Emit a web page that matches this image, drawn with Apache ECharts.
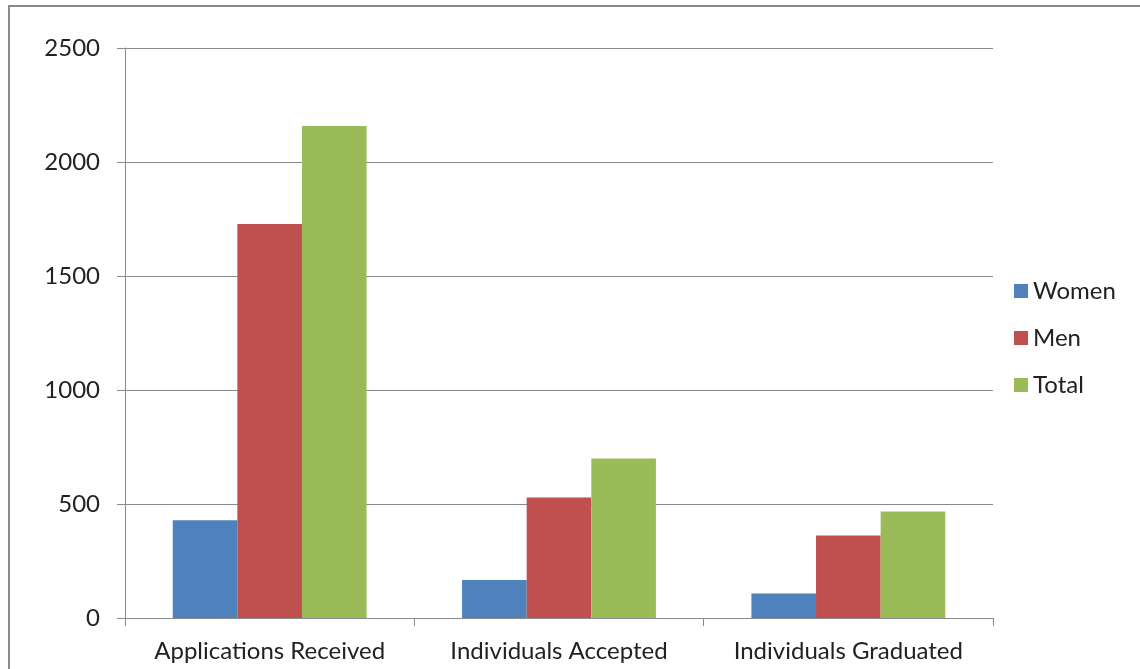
<!DOCTYPE html>
<html>
<head>
<meta charset="utf-8">
<script src="https://cdn.jsdelivr.net/npm/echarts@6/dist/echarts.min.js"></script>
<style>
    html, body { margin: 0; padding: 0; background: #fff; }
    #myChart { width: 1140px; height: 669px; }
</style>
</head>
<body>
<div id="myChart"></div>
<script>
const categories = ['Applications Received', 'Individuals Accepted', 'Individuals Graduated']
const women = [429, 167, 107]
const men = [1728, 528, 362]
const total = [2158, 700, 467]
const colorList = ['#4F81BD', '#C0504D', '#9BBB59']
const textFont = 'Lato'

const myChart = echarts.init(document.getElementById('myChart'))

const option = {
    animation: false,
    color: colorList,
    graphic: [{
        type: 'rect',
        shape: { x: 9, y: 6, width: 1200, height: 720 },
        style: { fill: 'none', stroke: '#8a8a8a', lineWidth: 2 },
        silent: true
    }],
    legend: {
        orient: 'vertical',
        left: 1009,
        top: 274,
        itemWidth: 14,
        itemHeight: 14,
        itemGap: 23,
        icon: 'rect',
        textStyle: { fontFamily: textFont, fontSize: 24, color: '#222', lineHeight: 24 },
        data: ['Women', 'Men', 'Total']
    },
    grid: {
        left: 125,
        right: 147,
        top: 48,
        bottom: 51
    },
    xAxis: {
        type: 'category',
        data: categories,
        axisLine: { lineStyle: { color: '#8a8a8a', width: 1 } },
        axisTick: { show: true, length: 8, lineStyle: { color: '#8a8a8a' } },
        axisLabel: { fontFamily: textFont, fontSize: 24, color: '#222', margin: 21, interval: 0, hideOverlap: false }
    },
    yAxis: {
        type: 'value',
        min: 0,
        max: 2500,
        interval: 500,
        axisLine: { show: true, lineStyle: { color: '#8a8a8a', width: 1 } },
        axisTick: { show: true, length: 8, lineStyle: { color: '#8a8a8a' } },
        splitLine: { show: true, lineStyle: { color: '#8a8a8a', width: 1 } },
        axisLabel: {
            fontFamily: textFont,
            fontSize: 24,
            color: '#222',
            margin: 25,
            formatter: function (value) {
                return String(value)
            }
        }
    },
    series: [{
        name: 'Women',
        type: 'bar',
        barGap: '0%',
        barCategoryGap: '33%',
        data: women
    }, {
        name: 'Men',
        type: 'bar',
        barGap: '0%',
        barCategoryGap: '33%',
        data: men
    }, {
        name: 'Total',
        type: 'bar',
        barGap: '0%',
        barCategoryGap: '33%',
        data: total
    }]
}

myChart.setOption(option)
</script>
</body>
</html>
